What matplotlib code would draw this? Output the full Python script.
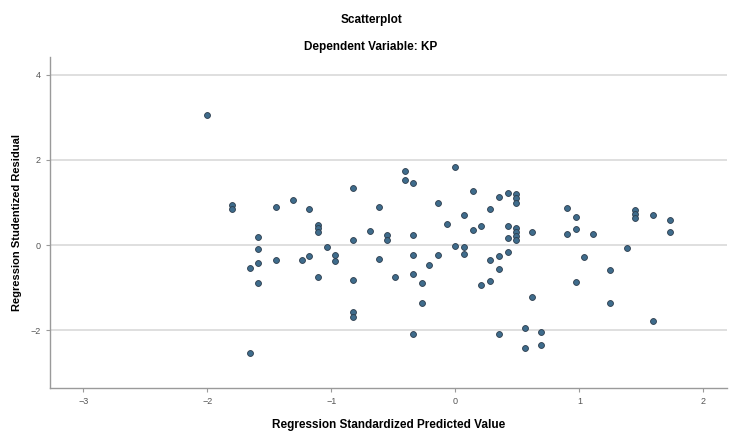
import matplotlib
matplotlib.use("Agg")
import matplotlib.pyplot as plt

# Regression Standardized Predicted Value (x) vs Studentized Residual (y)
pred = [-2.00, -1.80, -1.80, -1.66, -1.66, -1.59, -1.59, -1.59, -1.59, -1.45,
        -1.45, -1.31, -1.24, -1.18, -1.18, -1.11, -1.11, -1.11, -1.11, -1.04,
        -0.97, -0.97, -0.83, -0.83, -0.83, -0.83, -0.83, -0.69, -0.62, -0.62,
        -0.55, -0.55, -0.49, -0.41, -0.41, -0.34, -0.34, -0.34, -0.34, -0.34,
        -0.27, -0.27, -0.21, -0.14, -0.14, -0.07, 0.00, 0.00, 0.07, 0.07,
        0.07, 0.14, 0.14, 0.21, 0.21, 0.28, 0.28, 0.28, 0.35, 0.35,
        0.35, 0.35, 0.42, 0.42, 0.42, 0.42, 0.49, 0.49, 0.49, 0.49,
        0.49, 0.49, 0.49, 0.56, 0.56, 0.62, 0.62, 0.69, 0.69, 0.90,
        0.90, 0.97, 0.97, 0.97, 1.04, 1.11, 1.25, 1.25, 1.38, 1.45,
        1.45, 1.45, 1.59, 1.59, 1.73, 1.73]
resid = [3.06, 0.94, 0.84, -0.53, -2.53, 0.20, -0.10, -0.42, -0.89, 0.89,
         -0.35, 1.07, -0.35, 0.84, -0.26, 0.47, 0.39, 0.31, -0.76, -0.04,
         -0.24, -0.38, 1.33, 0.12, -0.81, -1.57, -1.69, 0.33, 0.90, -0.33,
         0.24, 0.13, -0.74, 1.73, 1.53, 1.47, 0.23, -0.24, -0.69, -2.08,
         -0.89, -1.36, -0.48, 1.00, -0.24, 0.49, 1.83, -0.02, 0.71, -0.05,
         -0.21, 1.28, 0.35, 0.45, -0.93, 0.85, -0.35, -0.84, 1.12, -0.26,
         -0.56, -2.09, 1.22, 0.45, 0.16, -0.16, 1.19, 1.10, 1.00, 0.41,
         0.31, 0.21, 0.12, -1.96, -2.42, 0.31, -1.22, -2.04, -2.35, 0.87,
         0.27, 0.67, 0.38, -0.86, -0.29, 0.27, -0.59, -1.37, -0.08, 0.82,
         0.73, 0.63, 0.70, -1.78, 0.60, 0.30]

x_ticks = [-3, -2, -1, 0, 1, 2]
y_ticks = [-2, 0, 2, 4]

plt.rcParams['font.family'] = ['Liberation Sans', 'DejaVu Sans']

fig = plt.figure(figsize=(7.32, 4.32), dpi=100)
ax = fig.add_axes([50 / 732, 1 - 388 / 432, 677 / 732, 331 / 432])

ax.scatter(pred, resid, s=18, facecolor='#3f6c8c', edgecolor='#2c3c4c',
           linewidth=0.6, zorder=3)

ax.set_xlim(-3.27, 2.19)
ax.set_ylim(-3.36, 4.42)
ax.set_xticks(x_ticks)
ax.set_yticks(y_ticks)
ax.yaxis.grid(True, color='#dcdcdc', linewidth=1.3)
ax.set_axisbelow(True)

for s in ['top', 'right']:
    ax.spines[s].set_visible(False)
for s in ['left', 'bottom']:
    ax.spines[s].set_color('#9a9a9a')
    ax.spines[s].set_linewidth(1.0)
ax.tick_params(colors='#9a9a9a', labelcolor='#555555', labelsize=6.5,
               length=3, width=0.8)

ax.set_xlabel('Regression Standardized Predicted Value', fontsize=8.5,
              fontweight='bold', labelpad=9)
ax.set_ylabel('Regression Studentized Residual', fontsize=8,
              fontweight='bold', labelpad=6)

fig.text(0.507, 1 - 20 / 432, 'Scatterplot', ha='center', va='center',
         fontsize=8.5, fontweight='bold')
fig.text(0.507, 1 - 47 / 432, 'Dependent Variable: KP', ha='center',
         va='center', fontsize=8.5, fontweight='bold')

plt.savefig('out.png', dpi=100)
